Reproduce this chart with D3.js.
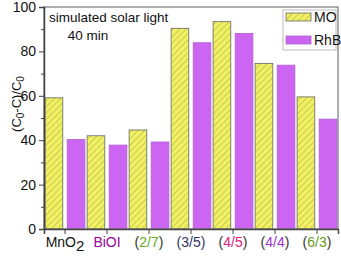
<!DOCTYPE html>
<html>
<head>
<meta charset="utf-8">
<script src="https://cdn.jsdelivr.net/npm/d3@7"></script>
<style>
body { margin: 0; background: #fff; }
text { font-family: "Liberation Sans", Arial, sans-serif; }
</style>
</head>
<body>
<div id="container"></div>
<script>
var categories = ["MnO2", "BiOI", "(2/7)", "(3/5)", "(4/5)", "(4/4)", "(6/3)"];
var moValues = [59.1, 42.0, 44.6, 90.4, 93.4, 74.6, 59.5];
var rhbValues = [40.3, 37.8, 39.2, 83.9, 88.1, 73.8, 49.5];
var seriesNames = ["MO", "RhB"];
var yTicks = [0, 20, 40, 60, 80, 100];

var width = 341,
	height = 256,
	plotLeft = 44,
	plotRight = 338,
	plotTop = 7,
	plotBottom = 229;

var svg = d3.select("#container")
	.append("svg")
		.attr("width", width)
		.attr("height", height);

var defs = svg.append("defs");
var pat = defs.append("pattern")
	.attr("id", "hatch")
	.attr("patternUnits", "userSpaceOnUse")
	.attr("width", 4.5)
	.attr("height", 4.5)
	.attr("patternTransform", "rotate(45)");
pat.append("rect").attr("width", 4.5).attr("height", 4.5).attr("fill", "#f0f064");
pat.append("line")
	.attr("x1", 0).attr("y1", 0).attr("x2", 0).attr("y2", 4.5)
	.attr("stroke", "#a8a83c").attr("stroke-width", 1);

var xScale = d3.scaleBand()
	.domain(categories)
	.range([plotLeft, plotRight])
	.padding(0);

var subScale = d3.scaleBand()
	.domain(seriesNames)
	.range([0, xScale.bandwidth()])
	.paddingInner(0.2)
	.paddingOuter(0.05);

var yScale = d3.scaleLinear()
	.domain([0, 100])
	.range([plotBottom, plotTop]);

var fills = {MO: "url(#hatch)", RhB: "#cc66f2"};
var strokes = {MO: "#666", RhB: "#b060d0"};
var rows = categories.map(function(c, i){
	return {cat: c, vals: [{k: "MO", v: moValues[i]}, {k: "RhB", v: rhbValues[i]}]};
});

svg.selectAll("g.grp")
	.data(rows)
	.enter().append("g")
		.attr("class", "grp")
		.attr("transform", function(d){ return "translate(" + xScale(d.cat) + ",0)"; })
	.selectAll("rect")
		.data(function(d){ return d.vals; })
		.enter().append("rect")
		.attr("x", function(d){ return subScale(d.k); })
		.attr("y", function(d){ return yScale(d.v); })
		.attr("width", subScale.bandwidth())
		.attr("height", function(d){ return plotBottom - yScale(d.v); })
		.style("fill", function(d){ return fills[d.k]; })
		.style("stroke", function(d){ return strokes[d.k]; })
		.style("stroke-width", 0.8);

// frame
svg.append("rect")
	.attr("x", plotLeft).attr("y", plotTop)
	.attr("width", plotRight - plotLeft).attr("height", plotBottom - plotTop)
	.attr("fill", "none").attr("stroke", "#777").attr("stroke-width", 1.2);

// y axis
var yAxis = svg.append("g")
	.attr("transform", "translate(" + plotLeft + ",0)")
	.call(d3.axisLeft(yScale).tickValues(yTicks).tickSize(5).tickPadding(3));
yAxis.select(".domain").attr("stroke", "#444").attr("stroke-width", 1.5);
yAxis.selectAll("line").attr("stroke", "#444");
yAxis.selectAll("text").style("font-size", "14px").attr("fill", "#111");
svg.append("g")
	.attr("transform", "translate(" + plotLeft + ",0)")
	.call(d3.axisLeft(yScale).tickValues([10, 30, 50, 70, 90]).tickSize(3).tickFormat(""))
	.call(function(g){ g.select(".domain").remove(); g.selectAll("line").attr("stroke", "#444"); });

// x axis
var xAxis = svg.append("g")
	.attr("transform", "translate(0," + plotBottom + ")")
	.call(d3.axisBottom(xScale).tickSize(5).tickPadding(5).tickFormat(""));
xAxis.select(".domain").attr("stroke", "#444").attr("stroke-width", 1.5);
xAxis.selectAll("line").attr("stroke", "#444");

var labelParts = {
	"MnO2": [["MnO", "#111"], ["2", "#111", "sub"]],
	"BiOI": [["BiOI", "#990099"]],
	"(2/7)": [["(", "#333"], ["2/7", "#66aa22"], [")", "#333"]],
	"(3/5)": [["(3/5)", "#333366"]],
	"(4/5)": [["(", "#333"], ["4/5", "#e0207a"], [")", "#333"]],
	"(4/4)": [["(", "#333"], ["4/4", "#9933cc"], [")", "#333"]],
	"(6/3)": [["(", "#333"], ["6/3", "#669922"], [")", "#333"]]
};

categories.forEach(function(c){
	var t = svg.append("text")
		.attr("x", xScale(c) + xScale.bandwidth() / 2)
		.attr("y", 247)
		.attr("text-anchor", "middle")
		.style("font-size", "14px");
	labelParts[c].forEach(function(p){
		var s = t.append("tspan").text(p[0]).attr("fill", p[1]);
		if (p[2] == "sub") s.attr("dy", 4).style("font-size", "15px");
	});
});

// y label
var yl = svg.append("text")
	.attr("transform", "translate(21,104) rotate(-90)")
	.attr("text-anchor", "middle")
	.style("font-size", "13px")
	.attr("fill", "#111");
yl.append("tspan").text("(C");
yl.append("tspan").text("0").attr("dy", 3).style("font-size", "10px");
yl.append("tspan").text("-C)/C").attr("dy", -3);
yl.append("tspan").text("0").attr("dy", 3).style("font-size", "10px");

// annotation
svg.append("text").attr("x", 49).attr("y", 22).style("font-size", "13.5px").attr("fill", "#111").text("simulated solar light");
svg.append("text").attr("x", 88).attr("y", 40).attr("text-anchor", "middle").style("font-size", "13.5px").attr("fill", "#111").text("40 min");

// legend
var lg = svg.append("g");
lg.append("rect")
	.attr("x", 283).attr("y", 10).attr("width", 53).attr("height", 40)
	.attr("fill", "#fff").attr("stroke", "#bbb").attr("stroke-width", 1);
lg.selectAll("g.item")
	.data(seriesNames)
	.enter().append("g")
		.attr("class", "item")
		.attr("transform", function(d, i){ return "translate(286," + (13 + i * 23) + ")"; })
		.each(function(d){
			var g = d3.select(this);
			g.append("rect").attr("width", 25).attr("height", 8)
				.style("fill", fills[d])
				.style("stroke", strokes[d]).style("stroke-width", 0.8);
			g.append("text").attr("x", 28).attr("y", 9).style("font-size", "14px").attr("fill", "#111").text(d);
		});
</script>
</body>
</html>
